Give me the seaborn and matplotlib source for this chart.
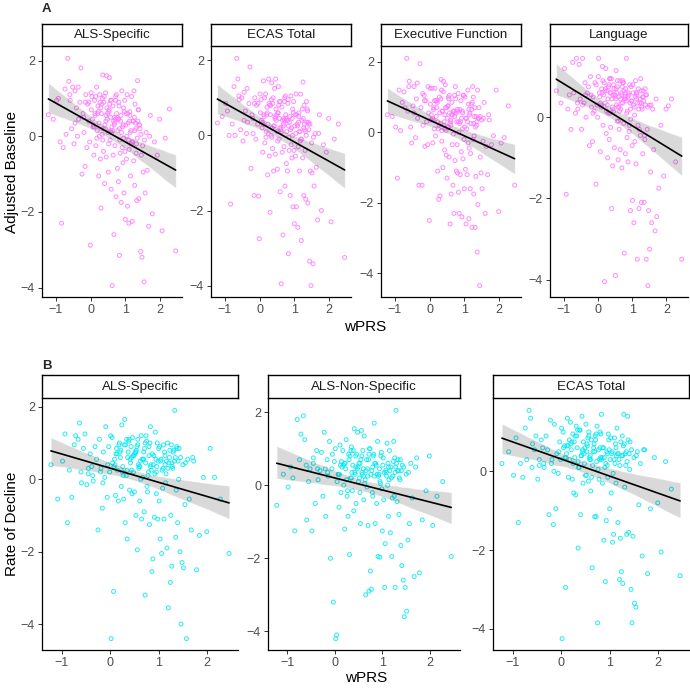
import numpy as np
import pandas as pd
import matplotlib
matplotlib.use("Agg")
import matplotlib.pyplot as plt
import seaborn as sns
from matplotlib.ticker import MultipleLocator

sns.set_theme(style="white")
plt.rcParams['font.family'] = ['Liberation Sans', 'DejaVu Sans']

# ---------------- data ----------------
wprs = [
    -1.22, -1.08, -0.98, -0.93, -0.88, -0.84, -0.79, -0.74, -0.71, -0.66,
    -0.63, -0.59, -0.55, -0.52, -0.48, -0.45, -0.41, -0.38, -0.35, -0.31,
    -0.28, -0.25, -0.22, -0.19, -0.16, -0.14, -0.11, -0.09, -0.06, -0.03,
    -0.01, 0.02, 0.04, 0.07, 0.09, 0.11, 0.13, 0.15, 0.17, 0.19,
    0.21, 0.23, 0.24, 0.26, 0.28, 0.30, 0.31, 0.33, 0.35, 0.37,
    0.38, 0.40, 0.41, 0.43, 0.45, 0.46, 0.48, 0.50, 0.51, 0.53,
    0.54, 0.56, 0.57, 0.59, 0.61, 0.62, 0.64, 0.65, 0.67, 0.69,
    0.70, 0.72, 0.73, 0.75, 0.77, 0.78, 0.80, 0.81, 0.83, 0.85,
    0.86, 0.88, 0.90, 0.91, 0.93, 0.95, 0.96, 0.98, 1.00, 1.01,
    1.03, 1.05, 1.06, 1.08, 1.10, 1.11, 1.13, 1.15, 1.17, 1.18,
    1.20, 1.22, 1.24, 1.25, 1.27, 1.29, 1.31, 1.33, 1.35, 1.37,
    1.39, 1.41, 1.44, 1.46, 1.48, 1.51, 1.54, 1.57, 1.60, 1.63,
    1.67, 1.72, 1.78, 1.84, 1.92, 1.99, 2.06, 2.15, 2.27, 2.45,
    0.05, 0.18, 0.27, 0.36, 0.44, 0.52, 0.60, 0.68, 0.76, 0.84,
    0.92, 0.99, 1.07, 1.14, 1.21, 1.28, 1.36, 0.47, 0.63, 0.79,
    -0.20, -0.05, 0.08, 0.22, 0.34, 0.42, 0.55, 0.66, 0.74, 0.87,
    0.97, 1.04, 1.12, 1.19, 1.26, 1.34, 1.42, 1.50, 0.14, 0.29,
    0.39, 0.49, 0.58, 0.71, 0.82, 0.94, 1.09, 1.23, 1.32, 1.45,
    -0.45, -0.15, 0.01, 0.12, 0.25, 0.32, 0.44, 0.53, 0.61, 0.72,
    0.80, 0.89, 1.02, 1.16, 1.30, 1.38, 1.55, -0.60, -0.36, 1.70,
    0.10, 0.20, 0.35, 0.57, 0.69, 0.83, 0.95, 1.13, 1.27, 1.40,
]

base_als_specific = [
    0.57, 0.45, 0.95, 1.0, -0.15, -2.3, -0.3, 1.25, 0.05, 2.06,
    1.45, 0.95, 0.2, 1.3, -0.2, 0.35, 0.75, 0.0, 0.45, 0.9,
    1.81, -1.0, 0.6, 0.1, -0.8, 1.1, -0.3, 0.85, 0.4, -0.15,
    -2.88, 0.7, 1.05, 0.25, -0.5, 0.95, 0.55, -0.25, 1.3, 0.15,
    0.8, -1.05, 0.35, 1.1, -0.6, -1.9, 0.6, 0.05, 1.62, -0.4,
    0.9, -1.25, 0.3, 1.15, -0.55, 1.6, 0.45, 0.1, -0.95, 0.7,
    1.55, -0.1, 0.5, -1.4, 0.25, -3.95, 0.8, -0.5, -2.6, 0.35,
    -0.25, 1.05, -1.6, 0.6, -0.85, 0.15, -1.2, 0.9, -3.15, -0.45,
    0.4, -1.75, 1.2, -0.3, -0.7, 0.75, -1.5, 0.95, -2.2, 0.3,
    -0.6, 1.1, -1.85, 0.35, -2.3, -0.35, 0.65, -1.05, -0.2, 1.05,
    -2.25, 0.4, -0.65, 1.2, -1.3, 0.35, -0.45, -1.7, 1.47, 0.7,
    -1.65, 0.3, -3.05, -0.5, -3.2, -0.95, -3.85, -1.5, 0.1, -0.9,
    -2.38, 0.55, -2.05, -0.15, -0.5, 0.45, -2.5, -0.05, 0.72, -3.03,
    0.45, -0.05, 0.9, 0.2, 0.55, -0.2, 0.95, 0.3, 0.5, -0.1,
    0.25, -0.4, 0.6, 0.1, -0.15, 0.85, 0.4, 0.75, 0.15, 0.45,
    0.5, 0.9, 0.3, 0.65, 1.0, 0.2, 0.85, 0.4, 1.1, 0.55,
    0.65, 0.0, 0.4, -0.15, 0.5, -0.05, 0.2, -0.25, 1.05, 0.75,
    1.05, 0.6, 0.15, 0.45, 0.8, 0.3, -0.1, 0.4, -0.2, 0.05,
    1.2, 0.9, 1.15, 0.6, 0.0, 0.85, 0.4, 0.65, 0.1, 0.95,
    0.45, 0.1, 0.6, 0.15, 0.2, 0.7, -0.1, 1.1, 1.3, 0.0,
    0.25, 0.6, -0.1, 0.95, 0.5, 0.2, -0.05, 0.55, 0.15, 0.3,
]

base_ecas_total = [
    0.33, 0.5, 0.85, 0.65, 0.0, -1.83, 0.3, 1.3, 0.0, 2.05,
    1.5, 0.95, 0.15, 1.0, -0.15, 0.4, 0.65, 0.05, 0.35, 0.85,
    1.82, -0.88, 0.55, 0.05, -1.6, 1.0, -0.1, 0.8, 0.3, -1.62,
    -2.75, 0.6, 0.95, 0.2, -0.45, 1.45, 0.5, -0.2, 1.1, 0.1,
    0.75, -1.05, 0.3, 1.5, -0.55, -2.05, 0.55, 0.0, 1.4, -0.35,
    0.85, -0.95, 0.25, 1.25, -0.5, 1.5, 0.4, 0.1, -0.9, 0.6,
    1.3, -0.1, 0.45, -1.5, 0.2, -3.95, 0.75, -0.45, -2.65, 0.3,
    -0.3, 1.0, -1.35, 0.55, -0.75, 0.1, -0.95, 0.85, -3.15, -0.4,
    0.35, -1.6, 1.05, -0.25, -0.6, 0.7, -1.9, 0.9, -2.35, 0.25,
    -0.55, 1.1, -1.9, 0.3, -2.45, -0.3, 0.6, -0.95, -0.15, 1.1,
    -2.8, 0.4, -0.6, 1.42, -1.6, 0.3, -0.4, -1.7, 0.9, 0.7,
    -1.8, 0.3, -3.35, -0.95, -4.0, -1.0, -3.42, -1.35, 0.05, -0.85,
    -2.25, 0.55, -2.0, -0.25, -0.45, 0.45, -2.3, -0.1, 0.3, -3.25,
    0.4, -0.05, 0.85, 0.2, 0.5, -0.15, 0.9, 0.25, 0.45, -0.05,
    0.2, -0.4, 0.55, 0.1, -0.1, 0.8, 0.35, 0.7, 0.1, 0.4,
    0.45, 0.85, 0.35, 0.6, 0.95, 0.25, 0.8, 0.4, 1.05, 0.5,
    0.6, 0.05, 0.35, -0.1, 0.45, 0.0, 0.15, -0.2, 1.0, 0.8,
    1.0, 0.55, 0.2, 0.4, 0.95, 0.45, 0.25, 0.7, 0.1, 0.3,
    1.15, 0.85, 1.1, 0.55, 0.05, 0.8, 0.45, 0.6, 0.15, 0.9,
    0.4, 0.15, 0.55, 0.1, 0.15, 0.65, -0.05, 1.05, 1.25, 0.05,
    0.3, 0.55, -0.05, 0.9, 0.45, 0.25, 0.0, 0.5, 0.2, 0.35,
]

base_executive = [
    0.5, 0.45, 0.15, -1.3, 1.2, 0.05, 0.85, 1.15, 0.7, 2.1,
    0.6, 1.45, 0.15, -0.3, 0.75, 0.55, -0.15, 0.95, 0.4, -1.5,
    1.95, 0.7, -1.5, 0.2, 1.05, -0.4, 0.9, 0.3, -0.35, 0.55,
    -2.5, 0.8, 0.35, 1.25, -0.3, 0.65, 0.1, 1.25, -0.1, 0.45,
    0.9, -1.1, 0.3, -1.9, 1.0, -1.8, 0.25, 1.5, -0.25, 0.6,
    -1.0, 1.45, 0.2, -0.5, 1.35, 0.7, -0.65, -1.3, 0.4, 0.15,
    1.0, -0.7, 0.55, -2.6, 0.3, -1.75, 0.85, -0.35, -1.5, 0.6,
    -2.3, 0.45, -0.8, 0.95, -1.1, 0.3, -1.15, 0.6, -1.7, -2.3,
    0.25, -1.2, 0.9, -0.55, -2.4, 0.55, -0.75, 1.05, -1.6, 0.15,
    -1.05, -2.6, 0.4, -1.2, 1.2, -0.3, -2.45, 0.5, -1.6, -0.6,
    0.8, -2.7, 1.3, -0.2, -1.75, 0.45, -2.7, -1.25, 0.2, -3.4,
    -2.05, 0.4, -4.35, -0.7, -1.15, -1.6, -0.25, 0.85, -2.3, -0.4,
    -1.2, 0.35, -0.35, -0.1, 1.2, -2.25, -0.3, -0.15, 0.75, -1.5,
    0.5, 0.9, 0.2, 0.6, 0.1, 0.75, 0.35, -0.05, 0.55, 0.0,
    0.4, -0.2, 0.1, -0.45, 0.65, -0.1, 0.3, 0.05, 0.5, -0.35,
    1.1, 1.3, 0.4, 0.85, 1.2, 0.3, 0.95, 0.5, 1.3, 0.65,
    1.05, 0.4, 0.8, 0.25, 1.0, 0.45, 0.7, 0.35, 0.9, 0.55,
    1.15, 0.7, 0.25, 0.55, 1.1, 0.6, 0.3, 0.85, 0.15, 0.45,
    1.3, 0.9, 1.25, 0.7, 0.1, 0.95, 0.5, 0.75, 0.2, 1.05,
    0.65, 0.3, 1.0, 0.55, 0.7, 1.2, 0.4, 1.3, 1.4, 0.5,
    0.35, 0.7, 0.05, 1.05, 0.6, 0.3, 0.1, 0.65, 0.25, 0.4,
]

base_language = [
    0.65, 0.35, 1.2, -1.9, 0.2, 0.55, -0.3, 1.35, 0.6, 0.1,
    1.45, 0.2, 1.3, 0.45, -0.3, 1.45, 0.35, 0.85, 0.0, 0.6,
    0.75, -0.7, 1.0, 0.25, -0.6, 0.5, 0.15, 0.85, -1.65, 0.3,
    0.0, 1.45, 0.6, -0.85, 0.25, 0.7, 1.25, -0.2, 0.55, -4.05,
    0.35, 1.2, -0.4, 0.65, -1.0, 0.1, 0.75, -0.55, 0.95, -0.25,
    0.6, -2.25, 0.45, -1.2, 0.8, 0.15, -0.75, 0.55, -3.9, 1.15,
    0.3, -0.1, 0.75, -1.05, 0.5, -0.3, 0.9, -0.8, 0.2, 0.6,
    -1.25, 0.35, 0.85, -0.15, -3.35, 0.45, -0.9, 0.7, 1.45, -0.5,
    0.15, -1.1, 0.55, -0.35, 0.8, -2.3, -0.05, 0.4, -0.7, -2.05,
    0.6, -2.6, 0.25, -0.6, 0.9, -1.15, 0.45, -3.5, -0.2, 0.7,
    -2.25, 0.35, -0.45, 0.95, -2.1, 0.2, -0.9, 0.5, -2.1, -0.55,
    0.3, -3.5, -0.3, -4.15, -2.3, -3.25, -1.35, -2.6, 0.2, -0.8,
    -2.8, -2.45, -1.75, -0.2, -1.45, 0.2, 0.28, 0.45, -1.1, -3.5,
    0.5, 0.85, 0.3, 0.6, 0.2, 0.45, -0.1, 0.35, 0.65, 0.1,
    -0.2, 0.4, 0.05, 0.55, -0.3, 0.25, -0.45, 0.7, 0.15, 0.5,
    0.55, 0.8, 0.35, 0.7, 0.95, 0.25, 0.6, 0.45, 0.85, 0.5,
    0.75, 0.3, 0.6, 0.2, 0.65, 0.4, 0.55, 0.3, 0.9, 0.45,
    0.95, 0.5, 0.25, 0.75, 0.6, 0.35, 0.5, 0.45, 0.65, 0.25,
    0.3, 0.1, 1.0, 0.6, 0.15, 0.8, 0.55, 0.7, 0.25, 0.9,
    0.45, 0.6, 0.8, 0.35, 0.5, 0.7, 0.3, 0.35, 0.55, 0.45,
    0.3, 0.65, 0.1, 0.9, 0.55, 0.4, 0.2, 0.6, 0.35, 0.55,
]

decline_als_specific = [
    0.4, -0.55, 0.5, 1.25, -1.2, 0.25, -0.5, 0.95, 1.2, 1.1,
    1.55, -0.1, 0.85, 1.25, -0.15, 0.15, 0.7, 0.35, -0.05, 0.9,
    0.55, -1.4, 1.1, 0.3, -0.8, 0.75, 0.05, 1.45, -0.5, 0.9,
    0.2, -4.4, 1.15, -3.1, 0.55, -0.45, 0.85, 0.25, -0.6, 1.0,
    0.6, -0.2, 1.5, 0.35, -0.55, 1.65, -1.2, 0.1, -1.65, 0.75,
    1.05, -0.3, 0.55, 0.9, -0.4, 1.15, 0.2, -0.35, 0.7, -1.0,
    0.8, -1.95, 1.1, 0.3, -0.6, 0.5, 1.2, -1.1, 0.05, 0.75,
    -0.9, -3.2, 0.45, 1.05, -0.35, 0.1, 0.9, -1.25, 1.45, 0.25,
    -2.55, -2.2, 0.65, -1.05, 1.3, -0.4, 0.35, -1.1, 0.85, -0.6,
    -1.65, 0.55, -2.05, -0.25, 0.95, -1.1, 0.4, 0.15, -1.9, 1.0,
    -3.55, 0.6, -2.85, -1.0, -2.4, 0.3, 0.8, 1.9, -1.6, 0.9,
    -1.2, 0.0, -2.0, -4.0, -2.3, -2.45, -0.7, -4.4, 0.55, -0.55,
    -1.4, 0.5, -2.5, -1.55, 0.05, -1.45, 0.85, 0.05, -0.55, -2.05,
    0.45, 0.95, 0.1, 0.6, 0.25, 0.75, 0.35, 0.55, -0.2, 0.4,
    0.15, 0.5, 0.25, -0.1, 0.45, 0.35, -0.3, 0.65, 0.0, 0.2,
    0.2, 0.4, 0.35, 0.8, 1.1, 0.45, 0.9, 0.55, 1.2, 0.7,
    1.0, 0.5, 0.75, 0.3, 0.95, 0.6, 0.85, 0.4, 0.7, 0.95,
    1.1, 0.65, 0.4, 0.85, 1.0, 0.55, 0.3, 0.8, 0.5, 0.6,
    0.3, -0.1, 1.2, 0.7, 0.2, 0.95, 0.6, 0.75, 0.35, 1.0,
    0.65, 0.4, 0.9, 0.5, 0.75, 0.85, 0.45, 0.2, 0.1, 0.6,
    0.4, 0.75, 0.25, 0.95, 0.55, 0.35, 0.2, 0.65, 0.45, 0.5,
]

decline_als_non_specific = [
    -0.55, 0.3, -0.05, 0.5, 0.2, -1.25, 1.8, 0.7, 1.4, 1.9,
    1.25, -0.95, 0.1, 0.45, -1.25, 0.6, -0.5, 0.95, 0.15, 0.4,
    0.9, -0.3, 1.45, -0.85, 0.7, 0.25, 1.2, -2.0, 0.45, -3.2,
    0.65, -4.2, -4.1, 0.3, -0.6, 1.1, -0.2, 0.5, 0.95, 0.0,
    -1.2, 0.45, 1.25, -0.3, -0.85, 0.7, -1.9, 0.2, 1.05, -0.15,
    0.55, -0.7, 1.55, 0.3, -0.5, 0.85, 1.45, 0.1, 0.6, -0.2,
    -1.05, 1.5, 0.35, 0.95, -0.4, 1.35, 0.15, -3.0, 0.7, 0.25,
    -1.1, -2.9, 1.0, -2.35, -2.85, 0.4, -0.3, 0.8, 1.7, -1.05,
    0.6, -0.5, 1.2, -1.95, 0.3, -1.97, 0.05, 0.9, -1.25, 0.55,
    -0.4, -2.8, -1.6, 0.35, 1.15, 0.0, -0.85, 0.95, -1.3, 0.5,
    -1.95, 0.25, 1.2, -0.3, -2.8, 2.05, -0.45, 0.7, -0.8, 0.15,
    -1.65, -2.2, -2.6, -3.6, -2.8, -3.45, -1.5, -1.05, 0.6, -0.35,
    -2.5, 0.75, -2.4, -0.95, -0.15, 0.8, -1.1, -0.3, 0.1, -1.95,
    0.1, 0.55, -0.15, 0.35, 0.8, 0.2, 0.45, -0.05, 0.3, 0.6,
    0.25, -0.1, 0.4, 0.15, -0.35, 0.5, 0.2, 0.45, 0.05, -0.2,
    0.45, 0.85, 0.3, 0.6, 0.95, 0.35, 0.7, 0.4, 1.0, 0.55,
    0.8, 0.35, 0.6, 0.2, 0.75, 0.4, 0.55, 0.3, 0.65, 0.85,
    0.95, 0.5, 0.3, 0.7, 0.85, 0.45, 0.25, 0.65, 0.4, 0.5,
    0.75, 0.35, 1.0, 0.55, 0.15, 0.8, 0.5, 0.6, 0.25, 0.85,
    0.5, 0.3, 0.75, 0.4, 0.6, 0.7, 0.35, 0.55, 0.45, 0.5,
    0.3, 0.6, 0.2, 0.8, 0.45, 0.25, 0.1, 0.5, 0.35, 0.4,
]

decline_ecas_total = [
    0.2, 0.5, -0.1, 0.85, -1.3, 0.2, -0.15, 1.1, 0.3, 1.55,
    1.35, 0.7, 0.55, 0.9, -0.2, 0.15, 0.8, 0.6, 0.1, 0.9,
    0.55, -1.1, 1.3, 0.3, -1.35, 1.2, -0.95, 0.45, -0.05, 0.75,
    0.3, -4.25, 1.0, 0.65, -2.95, 0.45, 1.35, -0.15, 0.8, 1.25,
    0.55, -0.2, 0.95, -0.55, 0.35, -0.6, 1.15, 0.6, -1.95, 0.1,
    1.05, -1.1, 0.4, 1.4, -0.3, 0.75, 0.2, -0.1, 1.2, 0.5,
    0.65, -0.25, 1.0, 0.3, -0.5, 0.8, -2.45, 0.15, 0.6, -1.15,
    0.9, -1.15, 0.25, -3.85, 0.55, -0.2, 1.0, 0.35, 1.45, -0.3,
    0.6, -1.75, 0.1, -2.8, -1.25, 0.45, -0.15, 0.8, -0.95, 0.3,
    -0.55, 0.5, -1.8, -1.6, 0.85, 0.2, -0.3, 1.1, -1.3, 0.45,
    -2.75, -1.7, -2.55, 0.4, -2.85, 1.45, -0.4, 0.15, -1.6, 1.4,
    -1.55, 0.05, -3.0, -3.85, -1.65, -3.35, -3.45, 0.5, -0.85, 0.2,
    -2.15, 0.55, -2.6, -0.95, 0.35, -0.8, -2.05, 0.25, -0.45, -2.65,
    0.6, 0.3, 0.75, 0.1, 0.5, -0.1, 0.4, 0.7, 0.05, 0.35,
    0.2, 0.55, -0.05, 0.4, 0.15, 0.65, 0.25, 0.45, -0.15, 0.3,
    0.2, 0.5, 0.35, 0.75, 1.05, 0.4, 0.85, 0.5, 1.15, 0.6,
    0.95, 0.45, 0.7, 0.3, 0.9, 0.5, 0.75, 0.35, 0.65, 0.9,
    1.05, 0.6, 0.35, 0.8, 0.95, 0.5, 0.3, 0.75, 0.45, 0.55,
    0.3, 0.0, 1.1, 0.65, 0.2, 0.9, 0.55, 0.7, 0.3, 0.95,
    0.6, 0.35, 0.85, 0.45, 0.7, 0.8, 0.4, 0.1, 0.2, 0.55,
    0.35, 0.7, 0.25, 0.9, 0.5, 0.3, 0.15, 0.6, 0.4, 0.45,
]

row_a_titles = ["ALS-Specific", "ECAS Total", "Executive Function", "Language"]
row_a_values = [base_als_specific, base_ecas_total, base_executive, base_language]
row_b_titles = ["ALS-Specific", "ALS-Non-Specific", "ECAS Total"]
row_b_values = [decline_als_specific, decline_als_non_specific, decline_ecas_total]

MAGENTA = "#FF77FF"
CYAN = "#00E8F0"

# ---------------- layout ----------------
W, H = 690, 689
fig = plt.figure(figsize=(W / 100, H / 100), dpi=100)
fig.patch.set_facecolor("white")


def rect(x0, y0, x1, y1):
    return [x0 / W, 1 - y1 / H, (x1 - x0) / W, (y1 - y0) / H]


def expand(vals, frac=0.05):
    lo, hi = min(vals), max(vals)
    pad = (hi - lo) * frac
    return lo - pad, hi + pad


def panel(x0, x1, y0, y1, strip_y0, title, yvals, color, seed):
    ax = fig.add_axes(rect(x0, y0, x1, y1))
    df = pd.DataFrame({"wPRS": wprs, "value": yvals})
    sns.regplot(data=df, x="wPRS", y="value", ax=ax, ci=95, n_boot=1000, seed=seed,
                scatter_kws=dict(s=8, facecolors="none", edgecolors=color, linewidths=0.75),
                line_kws=dict(color="black", linewidth=1.2))
    ax.set_xlim(*expand(wprs))
    ax.set_ylim(*expand(yvals))
    ax.xaxis.set_major_locator(MultipleLocator(1))
    ax.yaxis.set_major_locator(MultipleLocator(2))
    ax.set_xlabel("")
    ax.set_ylabel("")
    for s in ["top", "right"]:
        ax.spines[s].set_visible(False)
    for s in ["left", "bottom"]:
        ax.spines[s].set_color("black")
        ax.spines[s].set_linewidth(0.9)
    ax.tick_params(axis="both", which="major", length=3, width=0.7, color="#333333",
                   labelcolor="#4D4D4D", labelsize=9, pad=2, direction="out",
                   bottom=True, left=True)
    ax.set_facecolor("white")
    ax.grid(False)
    # facet strip
    sax = fig.add_axes(rect(x0, strip_y0, x1, y0 - 1))
    sax.set_xticks([])
    sax.set_yticks([])
    sax.set_facecolor("white")
    for s in sax.spines.values():
        s.set_visible(True)
        s.set_color("black")
        s.set_linewidth(1.0)
    sax.text(0.5, 0.5, title, ha="center", va="center", fontsize=9.6, color="#1A1A1A",
             transform=sax.transAxes)
    return ax


# Row A
a_cols = [(42, 182), (211, 351), (381, 521), (550, 688)]
for i, ((x0, x1), t, v) in enumerate(zip(a_cols, row_a_titles, row_a_values)):
    panel(x0, x1, 47, 297, 24, t, v, MAGENTA, i)

# Row B
b_cols = [(42, 238), (268, 460), (493, 689)]
for i, ((x0, x1), t, v) in enumerate(zip(b_cols, row_b_titles, row_b_values)):
    panel(x0, x1, 399, 650, 375, t, v, CYAN, 10 + i)

# labels
fig.text(42 / W, 1 - 9 / H, "A", fontsize=9.5, fontweight="bold", ha="left", va="center")
fig.text(42 / W, 1 - 366 / H, "B", fontsize=9.5, fontweight="bold", ha="left", va="center")
fig.text(12 / W, 1 - 172 / H, "Adjusted Baseline", rotation=90, fontsize=11,
         ha="center", va="center", color="black")
fig.text(12 / W, 1 - 524 / H, "Rate of Decline", rotation=90, fontsize=11,
         ha="center", va="center", color="black")
fig.text(365 / W, 1 - 327 / H, "wPRS", fontsize=11, ha="center", va="center", color="black")
fig.text(366 / W, 1 - 678 / H, "wPRS", fontsize=11, ha="center", va="center", color="black")

fig.savefig("out.png", dpi=100, facecolor="white")
